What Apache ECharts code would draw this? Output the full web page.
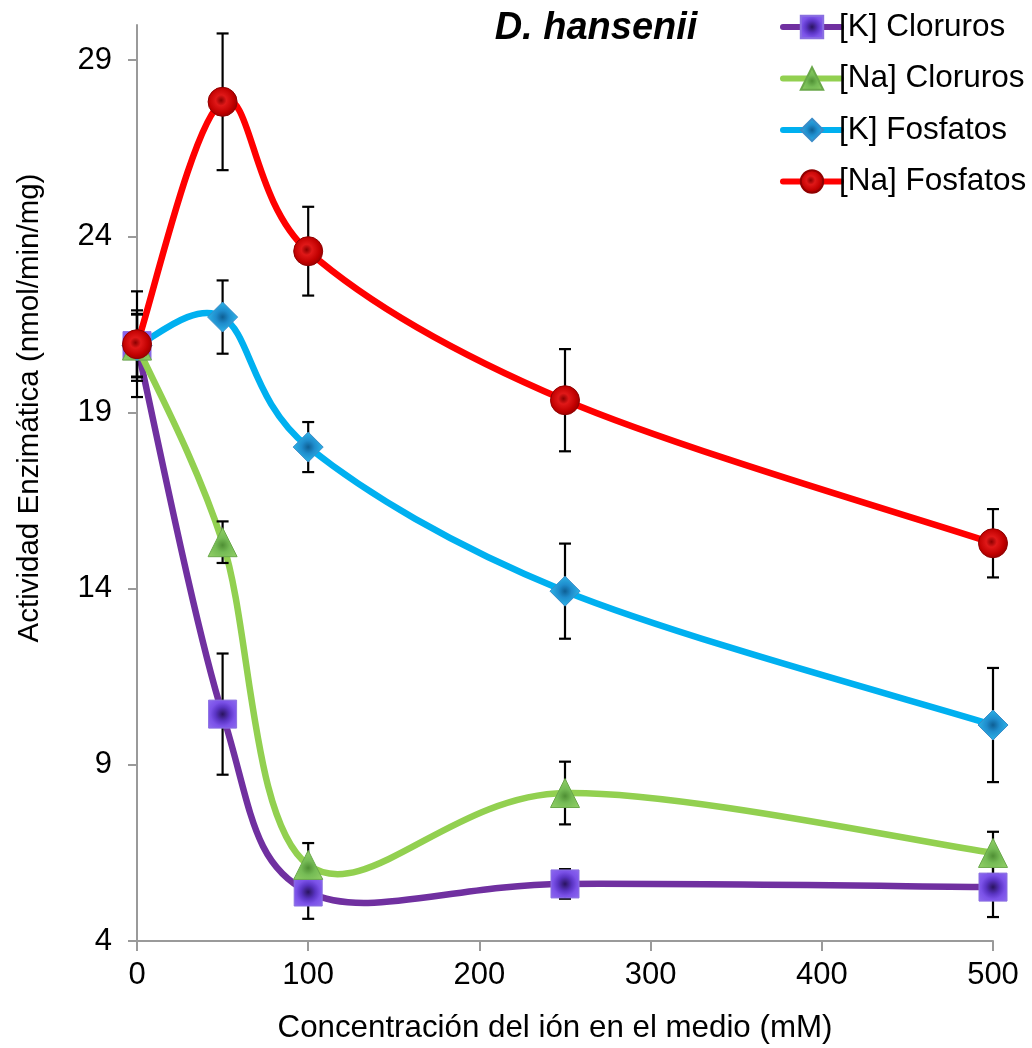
<!DOCTYPE html>
<html>
<head>
<meta charset="utf-8">
<title>D. hansenii - Actividad Enzimática</title>
<script src="https://cdn.jsdelivr.net/npm/echarts@6/dist/echarts.min.js"></script>
<style>
  html, body { margin: 0; padding: 0; background: #ffffff; }
  #chart { width: 1032px; height: 1048px; }
</style>
</head>
<body>
<div id="chart"></div>
<script>
// Ion concentration in the medium (mM)
const concentrations = [0, 50, 100, 250, 500];

// Enzymatic activity (nmol/min/mg) per salt
const kCloruros  = [20.9, 10.44, 5.39, 5.62, 5.53];
const naCloruros = [20.9, 15.32, 6.16, 8.20, 6.50];
const kFosfatos  = [20.9, 21.71, 18.02, 13.93, 10.13];
const naFosfatos = [20.94, 27.82, 23.58, 19.35, 15.29];

// Error bar half-widths
const kClorurosErr  = [1.00, 1.72, 0.76, 0.42, 0.85];
const naClorurosErr = [0.90, 0.59, 0.62, 0.89, 0.60];
const kFosfatosErr  = [0.88, 1.04, 0.71, 1.35, 1.62];
const naFosfatosErr = [1.50, 1.94, 1.26, 1.45, 0.97];

// Axis ticks
const yTicks = [4, 9, 14, 19, 24, 29];

const seriesNames = ['[K] Cloruros', '[Na] Cloruros', '[K] Fosfatos', '[Na] Fosfatos'];

const FONT = '"Liberation Sans", Arial, sans-serif';

// Smoothed curve: cubic Bezier segments with Catmull-Rom style tangents (1/6),
// tangents limited to half the segment length.
function bezierControls(p0, p1, p2, p3) {
  const dist = (a, b) => Math.hypot(a[0] - b[0], a[1] - b[1]);
  const d02 = dist(p0, p2), d12 = dist(p1, p2), d13 = dist(p1, p3);
  let f0 = 1 / 6, f1 = 1 / 6;
  if (!(d02 / 6 < d12 / 2 && d13 / 6 < d12 / 2)) {
    f0 = (d02 / 6 >= d12 / 2 && d02 > 0) ? d12 / d02 / 2 : 1 / 6;
    f1 = (d13 / 6 >= d12 / 2 && d13 > 0) ? d12 / d13 / 2 : 1 / 6;
  }
  return {
    cpx1: p1[0] + (p2[0] - p0[0]) * f0,
    cpy1: p1[1] + (p2[1] - p0[1]) * f0,
    cpx2: p2[0] - (p3[0] - p1[0]) * f1,
    cpy2: p2[1] - (p3[1] - p1[1]) * f1
  };
}

function curveSeries(name, values, color) {
  const n = values.length;
  return {
    type: 'custom',
    name: name,
    z: 2,
    silent: true,
    animation: false,
    clip: false,
    data: concentrations.map((x, i) => [x, values[i]]),
    encode: { x: 0, y: 1 },
    renderItem: function (params, api) {
      const i = params.dataIndex;
      if (i >= n - 1) return { type: 'group', children: [] };
      const pt = k => {
        const j = Math.max(0, Math.min(n - 1, k));
        return api.coord([concentrations[j], values[j]]);
      };
      const p0 = pt(i - 1), p1 = pt(i), p2 = pt(i + 1), p3 = pt(i + 2);
      const c = bezierControls(p0, p1, p2, p3);
      return {
        type: 'bezierCurve',
        shape: {
          x1: p1[0], y1: p1[1], x2: p2[0], y2: p2[1],
          cpx1: c.cpx1, cpy1: c.cpy1, cpx2: c.cpx2, cpy2: c.cpy2
        },
        style: { stroke: color, lineWidth: 6.5, fill: null, lineCap: 'round' }
      };
    }
  };
}

function errorSeries(name, values, errs) {
  return {
    type: 'custom',
    name: name,
    z: 3,
    silent: true,
    animation: false,
    clip: false,
    data: concentrations.map((x, i) => [x, values[i], errs[i]]),
    encode: { x: 0, y: 1 },
    renderItem: function (params, api) {
      const x = api.value(0), v = api.value(1), e = api.value(2);
      const top = api.coord([x, v + e]);
      const bot = api.coord([x, v - e]);
      const half = 6;
      const st = { stroke: '#000000', lineWidth: 2.2, fill: null };
      return {
        type: 'group',
        children: [
          { type: 'line', shape: { x1: top[0], y1: top[1], x2: bot[0], y2: bot[1] }, style: st },
          { type: 'line', shape: { x1: top[0] - half, y1: top[1], x2: top[0] + half, y2: top[1] }, style: st },
          { type: 'line', shape: { x1: bot[0] - half, y1: bot[1], x2: bot[0] + half, y2: bot[1] }, style: st }
        ]
      };
    }
  };
}

function markerSeries(name, values, lineColor, symbol, size, fill, border) {
  return {
    type: 'line',
    name: name,
    z: 5,
    animation: false,
    data: concentrations.map((x, i) => [x, values[i]]),
    symbol: symbol,
    symbolSize: size,
    showSymbol: true,
    smooth: false,
    lineStyle: { color: lineColor, width: 6.5, opacity: 0 },
    itemStyle: { color: fill, borderColor: border, borderWidth: 1, opacity: 1 },
    emphasis: { disabled: true }
  };
}

const purpleFill = {
  type: 'radial', x: 0.5, y: 0.5, r: 0.7,
  colorStops: [
    { offset: 0, color: '#2a1460' },
    { offset: 0.35, color: '#5a34c4' },
    { offset: 0.6, color: '#7b52e8' },
    { offset: 1, color: '#8e6cf0' }
  ]
};
const greenFill = {
  type: 'radial', x: 0.5, y: 0.6, r: 0.6,
  colorStops: [
    { offset: 0, color: '#4f8f34' },
    { offset: 0.4, color: '#75bb55' },
    { offset: 1, color: '#92d066' }
  ]
};
const blueFill = {
  type: 'radial', x: 0.5, y: 0.5, r: 0.6,
  colorStops: [
    { offset: 0, color: '#0e5f94' },
    { offset: 0.35, color: '#1f8ccc' },
    { offset: 1, color: '#33c4f2' }
  ]
};
const redFill = {
  type: 'radial', x: 0.45, y: 0.45, r: 0.6,
  colorStops: [
    { offset: 0, color: '#8a0000' },
    { offset: 0.3, color: '#e01818' },
    { offset: 0.7, color: '#c00000' },
    { offset: 1, color: '#8c0000' }
  ]
};

const chart = echarts.init(document.getElementById('chart'), null, { renderer: 'canvas' });

const option = {
  backgroundColor: '#ffffff',
  animation: false,
  grid: {
    left: 137, right: 39, top: 25, bottom: 107,
    outerBoundsMode: 'none'
  },
  legend: {
    orient: 'vertical',
    left: 775,
    top: 6,
    itemWidth: 58,
    itemHeight: 28,
    itemGap: 19.5,
    selectedMode: false,
    textStyle: { fontSize: 31.5, fontFamily: FONT, color: '#000000', padding: [0, 0, 0, -7] },
    lineStyle: { opacity: 1, width: 6, cap: 'round' },
    data: seriesNames
  },
  xAxis: {
    type: 'value',
    min: 0, max: 500, interval: 100,
    axisLine: { onZero: false, lineStyle: { color: '#9a9a9a', width: 2 } },
    axisTick: { show: true, inside: false, length: 10, lineStyle: { color: '#9a9a9a', width: 2 } },
    axisLabel: { fontSize: 31, fontFamily: FONT, color: '#000000', margin: 19 },
    splitLine: { show: false }
  },
  yAxis: {
    type: 'value',
    min: 4, max: 30,
    axisLine: { show: true, onZero: false, lineStyle: { color: '#9a9a9a', width: 2 } },
    axisTick: { show: true, inside: false, length: 9, customValues: yTicks, lineStyle: { color: '#9a9a9a', width: 2 } },
    axisLabel: { fontSize: 31, fontFamily: FONT, color: '#000000', margin: 25, customValues: yTicks },
    splitLine: { show: false }
  },
  graphic: [
    {
      type: 'text', x: 596, y: 29, z: 10,
      style: {
        text: 'D. hansenii', font: 'italic bold 38px ' + FONT,
        fill: '#000000', align: 'center', verticalAlign: 'middle'
      }
    },
    {
      type: 'text', x: 30, y: 408, rotation: Math.PI / 2, z: 10,
      style: {
        text: 'Actividad Enzimática (nmol/min/mg)', font: '29.5px ' + FONT,
        fill: '#000000', align: 'center', verticalAlign: 'middle'
      }
    },
    {
      type: 'text', x: 555, y: 1028, z: 10,
      style: {
        text: 'Concentración del ión en el medio (mM)', font: '31.3px ' + FONT,
        fill: '#000000', align: 'center', verticalAlign: 'middle'
      }
    }
  ],
  series: [
    markerSeries(seriesNames[0], kCloruros, '#7030a0', 'rect', 28, purpleFill, '#8a70e0'),
    markerSeries(seriesNames[1], naCloruros, '#92d050', 'triangle', 29, greenFill, '#6aa84a'),
    markerSeries(seriesNames[2], kFosfatos, '#00b0f0', 'diamond', 30, blueFill, '#3a8cc8'),
    markerSeries(seriesNames[3], naFosfatos, '#ff0000', 'circle', 29, redFill, '#900000'),

    curveSeries(seriesNames[0], kCloruros, '#7030a0'),
    curveSeries(seriesNames[1], naCloruros, '#92d050'),
    curveSeries(seriesNames[2], kFosfatos, '#00b0f0'),
    curveSeries(seriesNames[3], naFosfatos, '#ff0000'),

    errorSeries(seriesNames[0], kCloruros, kClorurosErr),
    errorSeries(seriesNames[1], naCloruros, naClorurosErr),
    errorSeries(seriesNames[2], kFosfatos, kFosfatosErr),
    errorSeries(seriesNames[3], naFosfatos, naFosfatosErr)
  ]
};

chart.setOption(option);
</script>
</body>
</html>
